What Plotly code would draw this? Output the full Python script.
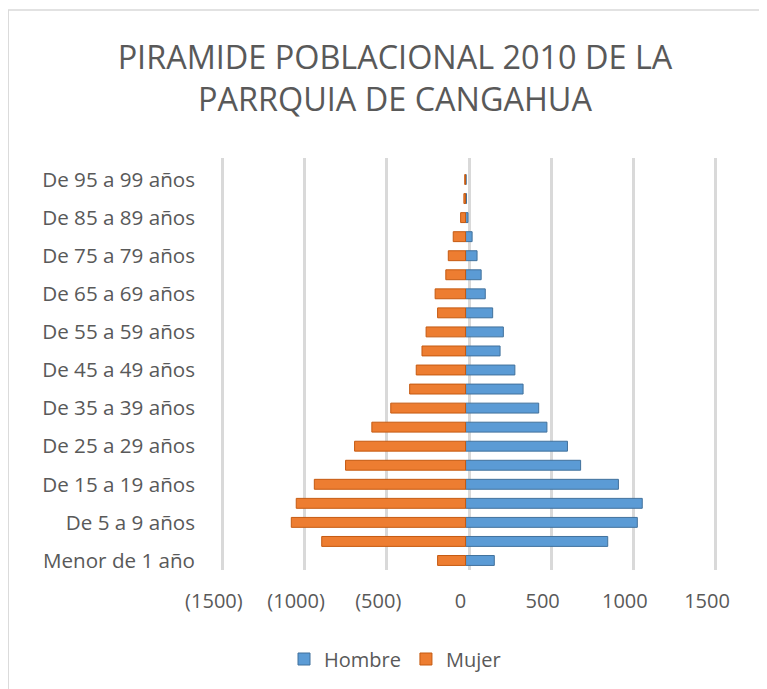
import plotly.graph_objects as go

categories = ["Menor de 1 año", "De 1 a 4 años", "De 5 a 9 años", "De 10 a 14 años",
              "De 15 a 19 años", "De 20 a 24 años", "De 25 a 29 años", "De 30 a 34 años",
              "De 35 a 39 años", "De 40 a 44 años", "De 45 a 49 años", "De 50 a 54 años",
              "De 55 a 59 años", "De 60 a 64 años", "De 65 a 69 años", "De 70 a 74 años",
              "De 75 a 79 años", "De 80 a 84 años", "De 85 a 89 años", "De 90 a 94 años",
              "De 95 a 99 años"]
hombre = [175, 865, 1045, 1075, 930, 700, 620, 495, 445, 350, 300, 210, 230, 165,
          120, 95, 70, 40, 15, 6, 4]
mujer = [170, 875, 1060, 1030, 920, 730, 675, 570, 455, 340, 300, 265, 240, 170,
         185, 120, 105, 75, 30, 10, 5]
mujer_neg = [-v for v in mujer]

x_tickvals = [-1500, -1000, -500, 0, 500, 1000, 1500]
x_ticktext = ["(1500)", "(1000)", "(500)", "0", "500", "1000", "1500"]
y_tickvals = categories[::2]

FONT = "Open Sans"
GREY = "#595959"

# page body has an 8px margin; positions below are figure coordinates
XR = 1600                     # axis half-range (gridlines only at +-1500)
PX_PER_UNIT = 493 / 3000
ZERO = 460.7
L = ZERO - XR * PX_PER_UNIT
R = ZERO + XR * PX_PER_UNIT
T, B = 150, 562
W, H = R - L, B - T
BAR_SHIFT = 21      # mimic the 3-D perspective offset of the bars (units)
LABEL_SHIFT = 52    # tick labels sit slightly left of the back gridlines

fig = go.Figure()
# base subplot: carries the gridlines
fig.add_trace(go.Scatter(x=[0], y=[categories[0]], xaxis="x", yaxis="y", mode="markers",
                         marker=dict(opacity=0), showlegend=False, hoverinfo="skip"))
fig.add_trace(go.Bar(y=categories, x=hombre, orientation="h", name="Hombre",
                     xaxis="x2", yaxis="y",
                     marker=dict(color="#5B9BD5", line=dict(color="#41719C", width=1))))
fig.add_trace(go.Bar(y=categories, x=mujer_neg, orientation="h", name="Mujer",
                     xaxis="x2", yaxis="y",
                     marker=dict(color="#ED7D31", line=dict(color="#C55A11", width=1))))
# tick labels axis
fig.add_trace(go.Scatter(x=[0], y=[categories[0]], xaxis="x3", yaxis="y", mode="markers",
                         marker=dict(opacity=0), showlegend=False, hoverinfo="skip"))

fig.update_layout(
    width=767, height=689,
    barmode="relative", bargap=0.48,
    paper_bgcolor="white", plot_bgcolor="white",
    margin=dict(l=L, r=767 - R, t=T, b=689 - B, autoexpand=False),
    font=dict(family=FONT, color=GREY, size=20),
    title=dict(text="PIRAMIDE POBLACIONAL 2010 DE LA<br>PARRQUIA DE CANGAHUA",
               font=dict(family=FONT, size=32.4, color=GREY),
               x=387 / 767, xanchor="center", xref="container",
               y=1 - 61 / 689, yanchor="middle", yref="container"),
    xaxis=dict(range=[-XR, XR], tickvals=x_tickvals, showticklabels=False,
               showgrid=True, gridcolor="#D9D9D9", gridwidth=3, zeroline=False,
               showline=False, automargin=False),
    xaxis2=dict(overlaying="x", range=[-XR + BAR_SHIFT, XR + BAR_SHIFT],
                showticklabels=False, showgrid=False, zeroline=False,
                showline=False, automargin=False),
    xaxis3=dict(overlaying="x", side="bottom",
                range=[-XR + LABEL_SHIFT, XR + LABEL_SHIFT],
                tickvals=x_tickvals, ticktext=x_ticktext,
                showgrid=False, zeroline=False, showline=False, automargin=False,
                ticklabelstandoff=17, tickfont=dict(size=20, color=GREY)),
    yaxis=dict(categoryorder="array", categoryarray=categories,
               tickvals=y_tickvals, range=[-0.5, 21.13],
               showgrid=False, zeroline=False, showline=False, automargin=False,
               ticklabelstandoff=10, tickfont=dict(size=20.6, color=GREY)),
    legend=dict(orientation="h", xref="container", yref="container",
                x=387 / 767, xanchor="center", y=(689 - 651) / 689, yanchor="middle",
                traceorder="normal", font=dict(size=20, color=GREY),
                itemwidth=30),
    shapes=[dict(type="rect", xref="paper", yref="paper",
                 x0=(0 - L) / W, x1=(800 - L) / W,
                 y0=(B - 720) / H, y1=(B - 2) / H,
                 line=dict(color="#D9D9D9", width=1.5), layer="below")],
)

fig.write_html("out.html")
